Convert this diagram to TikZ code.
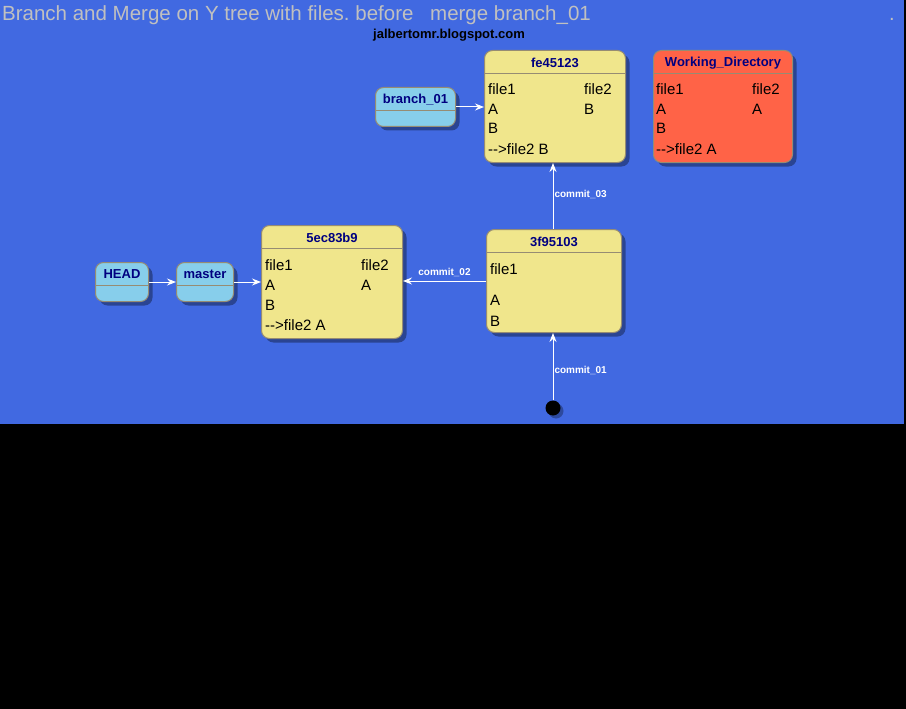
\documentclass[tikz,border=0pt]{standalone}
\usepackage{fontspec}
\setmainfont{Liberation Sans}
\usetikzlibrary{shadows,calc,arrows.meta}
\frenchspacing
\definecolor{bgblue}{RGB}{65,105,225}
\definecolor{khaki}{RGB}{240,230,140}
\definecolor{sky}{RGB}{135,206,235}
\definecolor{tomato}{RGB}{255,99,71}
\definecolor{bordc}{RGB}{150,140,115}
\definecolor{titlegrey}{RGB}{192,192,192}
\definecolor{navyc}{RGB}{0,0,128}
\tikzset{
  x=1pt,y=-1pt,
  state/.style={draw=bordc, line width=1pt, rounded corners=8pt, anchor=north west, inner sep=0pt,
    drop shadow={shadow xshift=4pt, shadow yshift=-4pt, fill=black, opacity=0.35}},
  commitbox/.style={state, fill=khaki},
  refbox/.style={state, fill=sky},
  wdbox/.style={state, fill=tomato},
  hdr/.style={draw=bordc, line width=0.8pt},
  sttitle/.style={font=\bfseries\fontsize{13}{15}\selectfont, text=navyc, inner sep=0pt},
  body/.style={font=\fontsize{15}{17}\selectfont, anchor=base west, inner sep=0pt},
  conn/.style={draw=white, line width=1pt, -{Stealth[length=9pt,width=7pt,inset=3pt]}},
  lbl/.style={font=\bfseries\fontsize{10}{12}\selectfont, text=white, inner sep=0pt},
}
\begin{document}
\begin{tikzpicture}
\useasboundingbox (0,0) rectangle (906,709);
\fill[black] (0,0) rectangle (906,709);
\fill[bgblue] (0,0) rectangle (904,423.5);

% titles
\node[font=\fontsize{20.5}{22}\selectfont, text=titlegrey, anchor=base west, inner sep=0pt] (title) at (2,21) {Branch and Merge on Y tree with files. before\hspace{11pt} merge branch\_01};
\node[font=\fontsize{20}{22}\selectfont, text=titlegrey, anchor=base west, inner sep=0pt] (dot) at (889,21) {.};
\node[font=\bfseries\fontsize{13}{15}\selectfont, text=black, inner sep=0pt] (blog) at (449,35) {jalbertomr.blogspot.com};

% fe45123
\node[commitbox, minimum width=141pt, minimum height=112pt] (fe) at (484,50) {};
\node[sttitle] (feT) at ($(fe.north)+(0,13)$) {fe45123};
\draw[hdr] ($(fe.north west)+(0,23)$) -- ($(fe.north east)+(0,23)$);
\node[body] (fe1) at (488,94.5) {file1};
\node[body] (fe2) at (584,94.5) {file2};
\node[body] (fe3) at (488,114.5) {A};
\node[body] (fe4) at (584,114.5) {B};
\node[body] (fe5) at (488,134) {B};
\node[body] (fe6) at (488,154) {-{}->file2 B};

% Working_Directory
\node[wdbox, minimum width=139pt, minimum height=112pt] (wd) at (653,50) {};
\node[sttitle] (wdT) at ($(wd.north)+(0,13)$) {Working\_Directory};
\draw[hdr] ($(wd.north west)+(0,23)$) -- ($(wd.north east)+(0,23)$);
\node[body] (wd1) at (656,94.5) {file1};
\node[body] (wd2) at (752,94.5) {file2};
\node[body] (wd3) at (656,114.5) {A};
\node[body] (wd4) at (752,114.5) {A};
\node[body] (wd5) at (656,134) {B};
\node[body] (wd6) at (656,154) {-{}->file2 A};

% branch_01
\node[refbox, minimum width=80pt, minimum height=39pt] (br) at (375,87) {};
\node[sttitle] (brT) at ($(br.north)+(0,12.5)$) {branch\_01};
\draw[hdr] ($(br.north west)+(0,23)$) -- ($(br.north east)+(0,23)$);

% 5ec83b9
\node[commitbox, minimum width=141pt, minimum height=113pt] (c5) at (261,225) {};
\node[sttitle] (c5T) at ($(c5.north)+(0,13)$) {5ec83b9};
\draw[hdr] ($(c5.north west)+(0,23)$) -- ($(c5.north east)+(0,23)$);
\node[body] (c51) at (265,270) {file1};
\node[body] (c52) at (361,270) {file2};
\node[body] (c53) at (265,290) {A};
\node[body] (c54) at (361,290) {A};
\node[body] (c55) at (265,310) {B};
\node[body] (c56) at (265,330) {-{}->file2 A};

% 3f95103
\node[commitbox, minimum width=135pt, minimum height=103pt] (c3) at (486,229) {};
\node[sttitle] (c3T) at ($(c3.north)+(0,13)$) {3f95103};
\draw[hdr] ($(c3.north west)+(0,23)$) -- ($(c3.north east)+(0,23)$);
\node[body] (c31) at (490,274) {file1};
\node[body] (c32) at (490,305) {A};
\node[body] (c33) at (490,326) {B};

% HEAD, master
\node[refbox, minimum width=53pt, minimum height=39pt] (head) at (95,262) {};
\node[sttitle] (headT) at ($(head.north)+(0,12.5)$) {HEAD};
\draw[hdr] ($(head.north west)+(0,23)$) -- ($(head.north east)+(0,23)$);
\node[refbox, minimum width=57pt, minimum height=39pt] (master) at (176,262) {};
\node[sttitle] (masterT) at ($(master.north)+(0,12.5)$) {master};
\draw[hdr] ($(master.north west)+(0,23)$) -- ($(master.north east)+(0,23)$);

% start
\node[circle, fill=black, minimum size=15pt, inner sep=0pt,
  drop shadow={shadow xshift=3pt, shadow yshift=-3pt, fill=black, opacity=0.3}] (start) at (553,408) {};

% connectors
\draw[conn] (br.east) -- (br.east -| fe.west);
\draw[conn] (head.east) -- (head.east -| master.west);
\draw[conn] (master.east) -- (master.east -| c5.west);
\draw[conn] (c3.west) -- (c3.west -| c5.east) node[lbl, pos=0.5, above=4pt] {commit\_02};
\draw[conn] (start.north) -- (start.north |- c3.south) node[lbl, pos=0.45, anchor=west, xshift=1pt] {commit\_01};
\draw[conn] (start.north |- c3.north) -- (start.north |- fe.south) node[lbl, pos=0.52, anchor=west, xshift=1pt] {commit\_03};
\end{tikzpicture}
\end{document}
